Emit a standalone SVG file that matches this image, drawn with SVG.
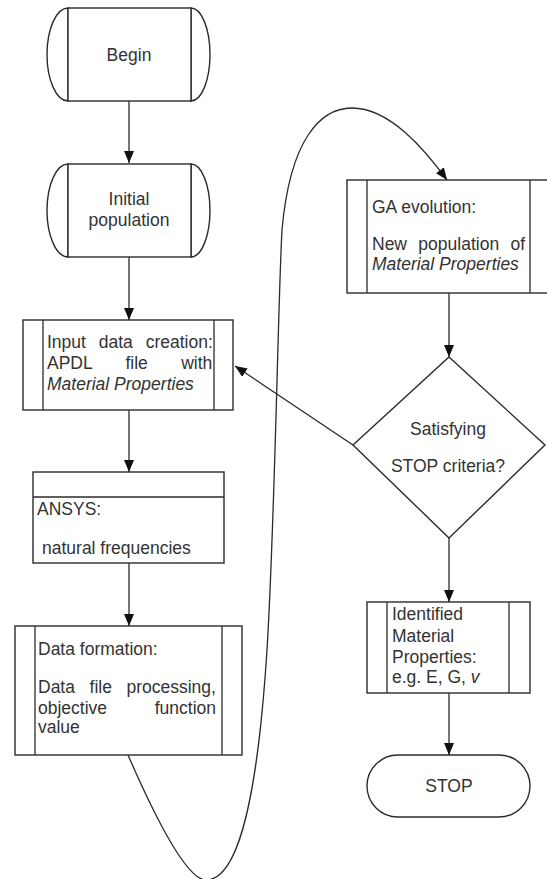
<svg xmlns="http://www.w3.org/2000/svg" width="547" height="879" viewBox="0 0 547 879">
<style>
.s{fill:#fff;stroke:#2b2b2b;stroke-width:1.4}
.l{fill:none;stroke:#2b2b2b;stroke-width:1.3}
text{font-family:"Liberation Sans",Arial,sans-serif;font-size:17.5px;fill:#333}
.c{text-anchor:middle}
.i{font-style:italic}
</style>
<defs>
<marker id="ah" viewBox="0 0 12 10" refX="12" refY="5" markerWidth="12" markerHeight="10" markerUnits="userSpaceOnUse" orient="auto">
<path d="M0,0 L12,5 L0,10 Z" fill="#111"/>
</marker>
</defs>
<rect width="547" height="879" fill="#fff"/>
<g id="connectors">
<line class="l" x1="129" y1="101" x2="129" y2="163" marker-end="url(#ah)"/>
<line class="l" x1="129" y1="257" x2="129" y2="320" marker-end="url(#ah)"/>
<line class="l" x1="129" y1="410" x2="129" y2="472" marker-end="url(#ah)"/>
<line class="l" x1="129" y1="563" x2="129" y2="626" marker-end="url(#ah)"/>
<path class="l" d="M128,755 C165,840 190,880 206,880 C240,880 258,790 267,650 C275,520 278,300 282,230 C290,140 320,108 352,108 C390,108 425,150 447,180" marker-end="url(#ah)"/>
<line class="l" x1="449" y1="293" x2="449" y2="357" marker-end="url(#ah)"/>
<line class="l" x1="353" y1="445" x2="235" y2="366" marker-end="url(#ah)"/>
<line class="l" x1="449" y1="538" x2="449" y2="602" marker-end="url(#ah)"/>
<line class="l" x1="449" y1="693" x2="449" y2="755" marker-end="url(#ah)"/>
</g>
<g id="begin">
<path class="s" d="M68,8 A21,46.5 0 0 0 68,101 Z"/>
<path class="s" d="M191,8 A19,46.5 0 0 1 191,101 Z"/>
<rect class="s" x="68" y="8" width="123" height="93"/>
<text class="c" x="129" y="61">Begin</text>
</g>
<g id="initial">
<path class="s" d="M68,164 A21,46.5 0 0 0 68,257 Z"/>
<path class="s" d="M191,164 A19,46.5 0 0 1 191,257 Z"/>
<rect class="s" x="68" y="164" width="123" height="93"/>
<text class="c" x="129" y="205">Initial</text>
<text class="c" x="129" y="226">population</text>
</g>
<g id="input">
<rect class="s" x="23" y="320" width="210" height="90"/>
<line class="l" x1="43" y1="320" x2="43" y2="410"/>
<line class="l" x1="214" y1="320" x2="214" y2="410"/>
<text x="47" y="348" word-spacing="8">Input data creation:</text>
<text x="47" y="369" word-spacing="28.5">APDL file with</text>
<text class="i" x="47" y="390">Material Properties</text>
</g>
<g id="ansys">
<rect class="s" x="33" y="472" width="191" height="91"/>
<line class="l" x1="33" y1="497" x2="224" y2="497"/>
<text x="37" y="515">ANSYS:</text>
<text x="42" y="554">natural frequencies</text>
</g>
<g id="dataformation">
<rect class="s" x="15" y="626" width="227" height="129"/>
<line class="l" x1="35" y1="626" x2="35" y2="755"/>
<line class="l" x1="222" y1="626" x2="222" y2="755"/>
<text x="38" y="655">Data formation:</text>
<text x="38" y="693" word-spacing="9.7">Data file processing,</text>
<text x="38" y="714" word-spacing="42.8">objective function</text>
<text x="38" y="733">value</text>
</g>
<g id="ga">
<rect class="s" x="347" y="180" width="205" height="113"/>
<line class="l" x1="367" y1="180" x2="367" y2="293"/>
<line class="l" x1="530" y1="180" x2="530" y2="293"/>
<text x="372" y="213">GA evolution:</text>
<text x="372" y="250" word-spacing="6.5">New population of</text>
<text class="i" x="372" y="270">Material Properties</text>
</g>
<g id="decision">
<polygon class="s" points="449,357 545,445 449,538 353,445"/>
<text class="c" x="448" y="435">Satisfying</text>
<text class="c" x="448" y="472">STOP criteria?</text>
</g>
<g id="identified">
<rect class="s" x="367" y="602" width="163" height="91"/>
<line class="l" x1="387" y1="602" x2="387" y2="693"/>
<line class="l" x1="509" y1="602" x2="509" y2="693"/>
<text x="392" y="620">Identified</text>
<text x="392" y="642">Material</text>
<text x="392" y="663">Properties:</text>
<text x="392" y="683">e.g. E, G, <tspan class="i">v</tspan></text>
</g>
<g id="stop">
<rect class="s" x="367" y="755" width="163" height="62" rx="31" ry="31"/>
<text class="c" x="449" y="792">STOP</text>
</g>
</svg>
